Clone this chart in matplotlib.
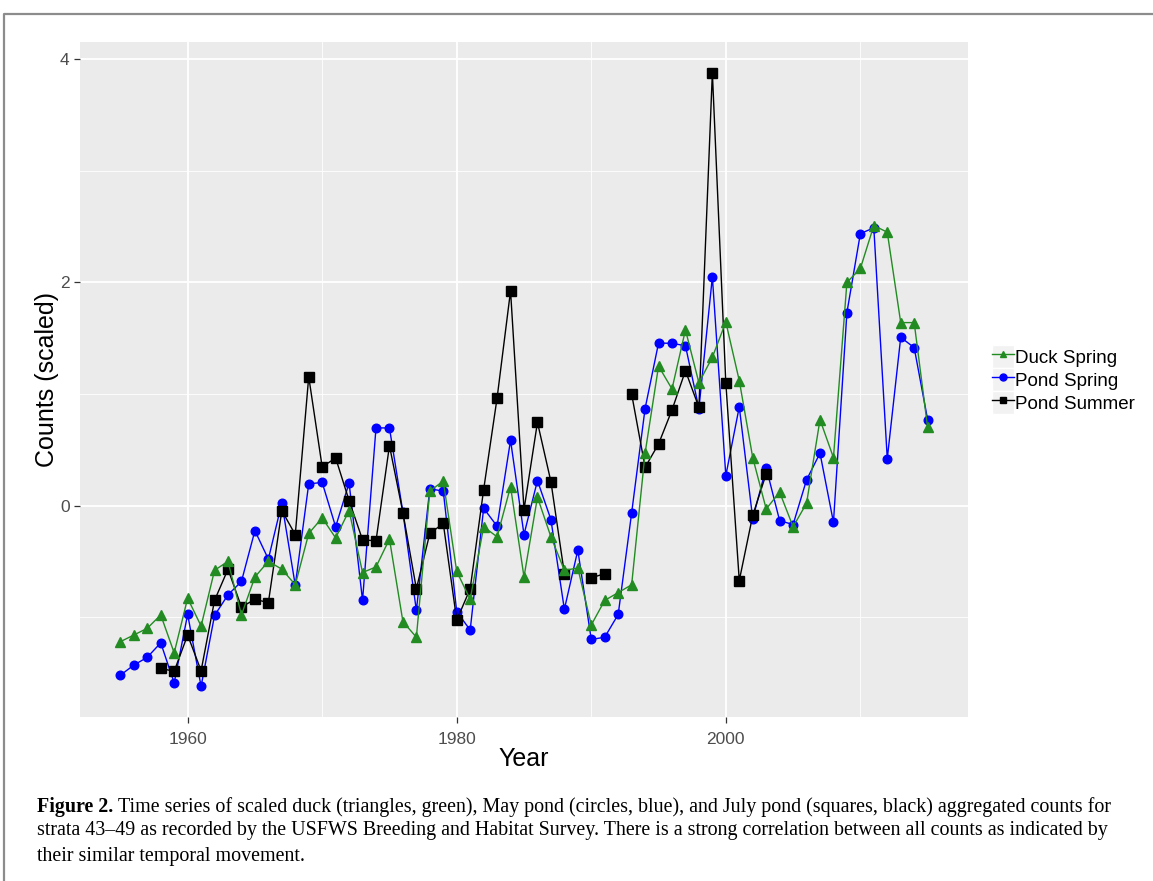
import numpy as np
import matplotlib
matplotlib.use("Agg")
import matplotlib.pyplot as plt
from matplotlib.lines import Line2D
from matplotlib.patches import Rectangle
from matplotlib.legend_handler import HandlerLine2D
from matplotlib.ticker import MultipleLocator

nan = np.nan

years = list(range(1955, 2016))

duck_spring = [
    -1.22, -1.16, -1.10, -0.98, -1.32, -0.83, -1.08, -0.58, -0.50, -0.98,   # 1955-1964
    -0.64, -0.50, -0.57, -0.71, -0.25, -0.11, -0.29, -0.045, -0.60, -0.55,  # 1965-1974
    -0.30, -1.04, -1.18, 0.13, 0.22, -0.59, -0.84, -0.19, -0.28, 0.17,      # 1975-1984
    -0.64, 0.075, -0.28, -0.58, -0.56, -1.07, -0.85, -0.78, -0.71, 0.47,    # 1985-1994
    1.25, 1.045, 1.575, 1.10, 1.33, 1.645, 1.12, 0.43, -0.03, 0.12,         # 1995-2004
    -0.19, 0.02, 0.77, 0.43, 2.00, 2.125, 2.51, 2.45, 1.64, 1.64,           # 2005-2014
    0.70,                                                                    # 2015
]

pond_spring = [
    -1.52, -1.43, -1.36, -1.23, -1.59, -0.975, -1.62, -0.985, -0.80, -0.68,
    -0.225, -0.48, 0.024, -0.715, 0.195, 0.207, -0.19, 0.203, -0.85, 0.696,
    0.696, -0.06, -0.94, 0.15, 0.13, -0.95, -1.116, -0.024, -0.185, 0.585,
    -0.26, 0.224, -0.125, -0.93, -0.40, -1.20, -1.18, -0.976, -0.066, 0.87,
    1.457, 1.454, 1.433, 0.87, 2.05, 0.268, 0.885, -0.118, 0.34, -0.135,
    -0.17, 0.23, 0.47, -0.15, 1.73, 2.438, 2.489, 0.42, 1.508, 1.416,
    0.77,
]

pond_summer = [
    nan, nan, nan, -1.46, -1.485, -1.16, -1.48, -0.85, -0.57, -0.91,
    -0.84, -0.87, -0.045, -0.26, 1.155, 0.346, 0.427, 0.045, -0.307, -0.316,
    0.537, -0.063, -0.746, -0.25, -0.16, -1.027, -0.746, 0.143, 0.964, 1.925,
    -0.036, 0.746, 0.215, -0.61, nan, -0.648, -0.61, nan, 1.0, 0.343,
    0.552, 0.857, 1.209, 0.88, 3.88, 1.10, -0.672, -0.088, 0.285, nan,
    nan, nan, nan, nan, nan, nan, nan, nan, nan, nan,
    nan,
]

caption_bold = "Figure 2."
caption_lines = [
    "Time series of scaled duck (triangles, green), May pond (circles, blue), and July pond (squares, black) aggregated counts for",
    "strata 43\u201349 as recorded by the USFWS Breeding and Habitat Survey. There is a strong correlation between all counts as indicated by",
    "their similar temporal movement.",
]

W, H = 1153, 881
fig = plt.figure(figsize=(W / 100, H / 100), dpi=100)
plt.rcParams['font.family'] = ['Liberation Sans', 'DejaVu Sans']

# panel
ax = fig.add_axes([80 / W, 1 - 717 / H, 888 / W, 675 / H])
ax.set_facecolor('#EBEBEB')
for s in ax.spines.values():
    s.set_visible(False)

ax.set_xlim(1952, 2018)
ax.set_ylim(-1.895, 4.155)
ax.xaxis.set_major_locator(MultipleLocator(20))
ax.xaxis.set_minor_locator(MultipleLocator(10))
ax.yaxis.set_major_locator(MultipleLocator(2))
ax.yaxis.set_minor_locator(MultipleLocator(1))
ax.grid(which='major', color='white', lw=1.3)
ax.grid(which='minor', color='white', lw=0.6)
ax.set_axisbelow(True)
ax.tick_params(which='major', length=4.5, width=0.9, color='#333333',
               labelsize=12.5, labelcolor='#4D4D4D', pad=3)
ax.tick_params(axis='x', which='major', pad=6)
ax.tick_params(which='minor', length=0)

ax.plot(years, pond_spring, color='blue', lw=1.0, marker='o', ms=6.2,
        label='Pond Spring')
ax.plot(years, pond_summer, color='black', lw=1.0, marker='s', ms=6.5,
        label='Pond Summer')
ax.plot(years, duck_spring, color='forestgreen', lw=1.0, marker='^', ms=7.5,
        label='Duck Spring')

ax.set_xlabel('Year', fontsize=18, labelpad=0)
ax.set_ylabel('Counts (scaled)', fontsize=18, labelpad=0.5)


class KeyHandler(HandlerLine2D):
    def create_artists(self, legend, orig_handle, xdescent, ydescent,
                       width, height, fontsize, trans):
        bg = Rectangle((-xdescent, -ydescent), width, height,
                       facecolor='#F2F2F2', edgecolor='white', lw=1.0,
                       transform=trans)
        arts = super().create_artists(legend, orig_handle, xdescent, ydescent,
                                      width, height, fontsize, trans)
        for a in arts:
            if hasattr(a, 'set_markersize') and a.get_marker() not in (None, 'None', ''):
                a.set_markersize(5)
        return [bg] + arts


handles, labels = ax.get_legend_handles_labels()
order = [2, 0, 1]
ax.legend([handles[i] for i in order], [labels[i] for i in order],
          loc='center left', bbox_to_anchor=(1.027, 0.5),
          frameon=False, fontsize=13.5, handlelength=1.2, handleheight=1.5,
          handletextpad=0.05, labelspacing=0.0, borderpad=0, borderaxespad=0,
          handler_map={Line2D: KeyHandler(numpoints=1)})

# figure frame (page border)
fig.add_artist(Line2D([4 / W, 4 / W, 1.0], [0.0, 1 - 14 / H, 1 - 14 / H],
                      transform=fig.transFigure, color='#8C8C8C', lw=1.6))

# caption
serif = ['Liberation Serif', 'DejaVu Serif']
cap_size = 14.4
line_y = [807, 831, 856]
renderer = fig.canvas.get_renderer()
t0 = fig.text(37 / W, 1 - line_y[0] / H, caption_bold, family=serif,
              weight='bold', fontsize=cap_size, va='center', ha='left')
bb = t0.get_window_extent(renderer=renderer)
fig.text((bb.x1 + 5) / W, 1 - line_y[0] / H, caption_lines[0], family=serif,
         fontsize=cap_size, va='center', ha='left')
for txt, yy in zip(caption_lines[1:], line_y[1:]):
    fig.text(37 / W, 1 - yy / H, txt, family=serif, fontsize=cap_size,
             va='center', ha='left')

fig.savefig('out.png', dpi=100)
